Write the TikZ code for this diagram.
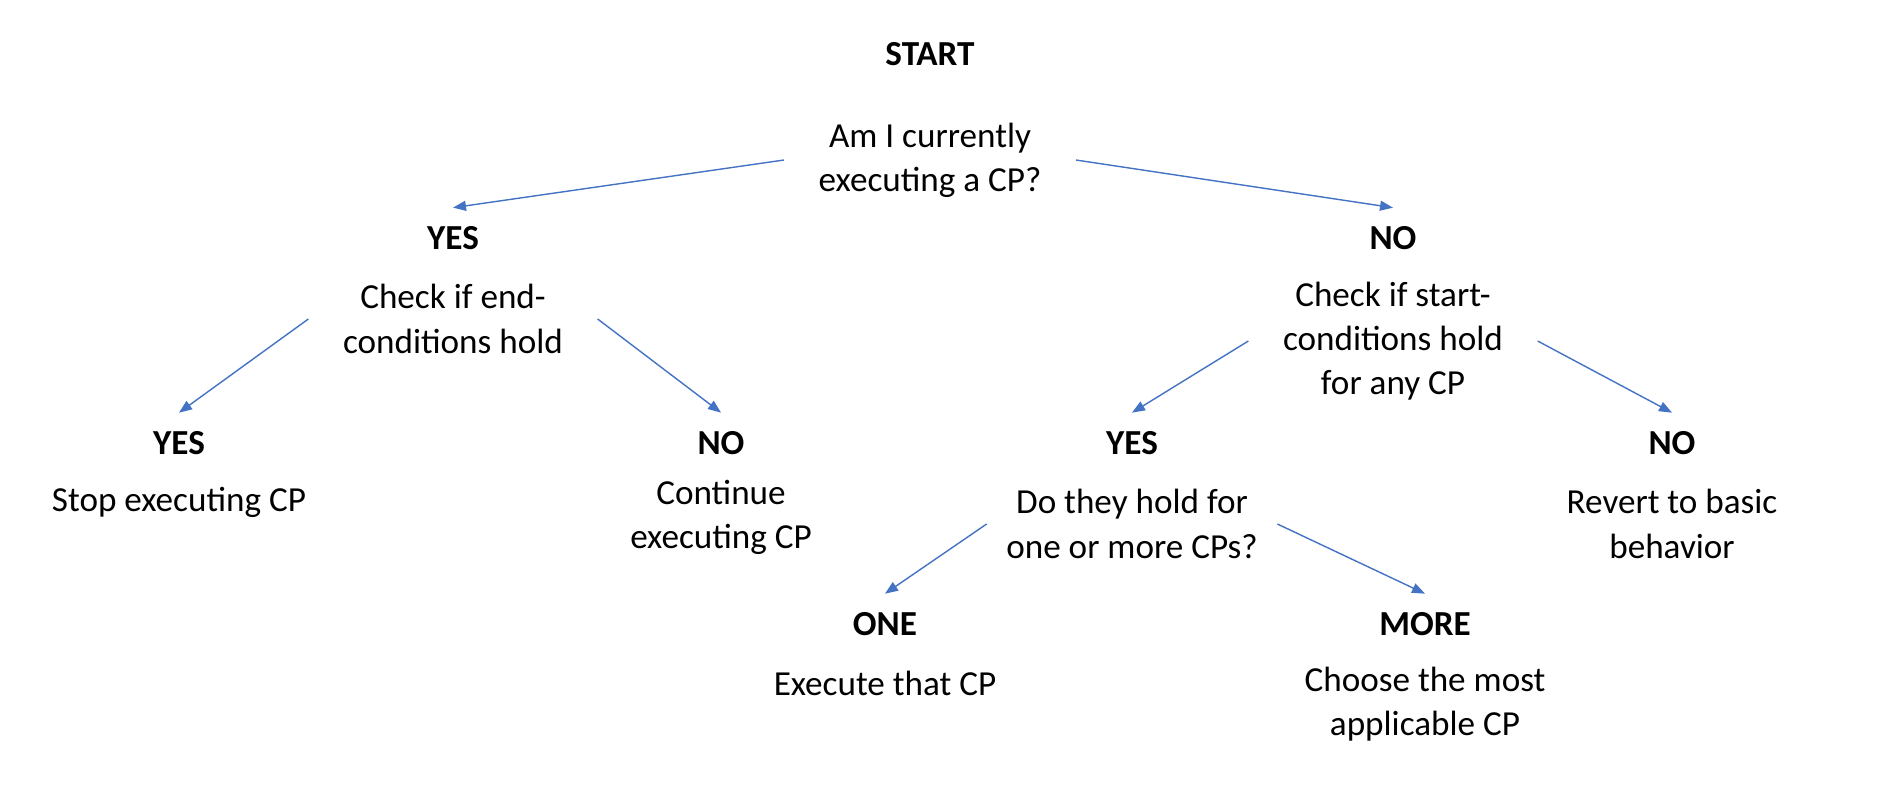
\documentclass[tikz,border=0pt]{standalone}
\usepackage{fontspec}
\setmainfont{Carlito}
\usetikzlibrary{positioning,arrows.meta}
\definecolor{arrowblue}{HTML}{4472C4}

\begin{document}
\begin{tikzpicture}[node distance=1cm,on grid,
	head/.style={font=\fontsize{10}{12.4}\selectfont\bfseries, inner ysep=0.18cm},
	txt/.style={align=center, font=\fontsize{10}{12.6}\selectfont, inner xsep=0.34cm},
	arr/.style={color=arrowblue, line width=0.4pt, -{Triangle[length=0.13cm,width=0.10cm]}}]
	   \useasboundingbox (0,0) rectangle (18.94,-7.90);
	   \node[head] (start) at (9.30,-0.54) {START};
	   \node[txt] (ask) [below=1.06cm of start] {Am I currently\\executing a CP?};
	   \node[head] (yes_1) [below left=0.78cm and 4.77cm of ask] {YES};
	   \node[head] (no_1) [below right=0.78cm and 4.63cm of ask] {NO};
	   \node[txt] (end_chk) [below=0.81cm of yes_1] {Check if end-\\conditions hold};
	   \node[txt] (start_chk) [below=1.03cm of no_1] {Check if start-\\conditions hold\\for any CP};
	   \node[head] (yes_2) [below left=1.24cm and 2.74cm of end_chk] {YES};
	   \node[head] (no_2) [below right=1.24cm and 2.68cm of end_chk] {NO};
	   \node[head] (yes_3) [below left=1.02cm and 2.61cm of start_chk] {YES};
	   \node[head] (no_3) [below right=1.02cm and 2.79cm of start_chk] {NO};
	   \node[txt] (stop) [below=0.59cm of yes_2] {Stop executing CP};
	   \node[txt] (cont) [below=0.74cm of no_2] {Continue\\executing CP};
	   \node[txt, inner xsep=0.19cm] (hold) [below=0.81cm of yes_3] {Do they hold for\\one or more CPs?};
	   \node[txt] (revert) [below=0.81cm of no_3] {Revert to basic\\behavior};
	   \node[head] (one) [below left=1.00cm and 2.47cm of hold] {ONE};
	   \node[head] (more) [below right=1.00cm and 2.93cm of hold] {MORE};
	   \node[txt] (exec) [below=0.59cm of one] {Execute that CP};
	   \node[txt] (choose) [below=0.80cm of more] {Choose the most\\applicable CP};
	    \path[arr]
	    (ask.west) edge (yes_1.north)
	    (ask.east) edge (no_1.north)
	    (end_chk.west) edge (yes_2.north)
	    (end_chk.east) edge (no_2.north)
	    (start_chk.west) edge (yes_3.north)
	    (start_chk.east) edge (no_3.north)
	    (hold.west) edge (one.north)
	    (hold.east) edge (more.north);
	\end{tikzpicture}
\end{document}
